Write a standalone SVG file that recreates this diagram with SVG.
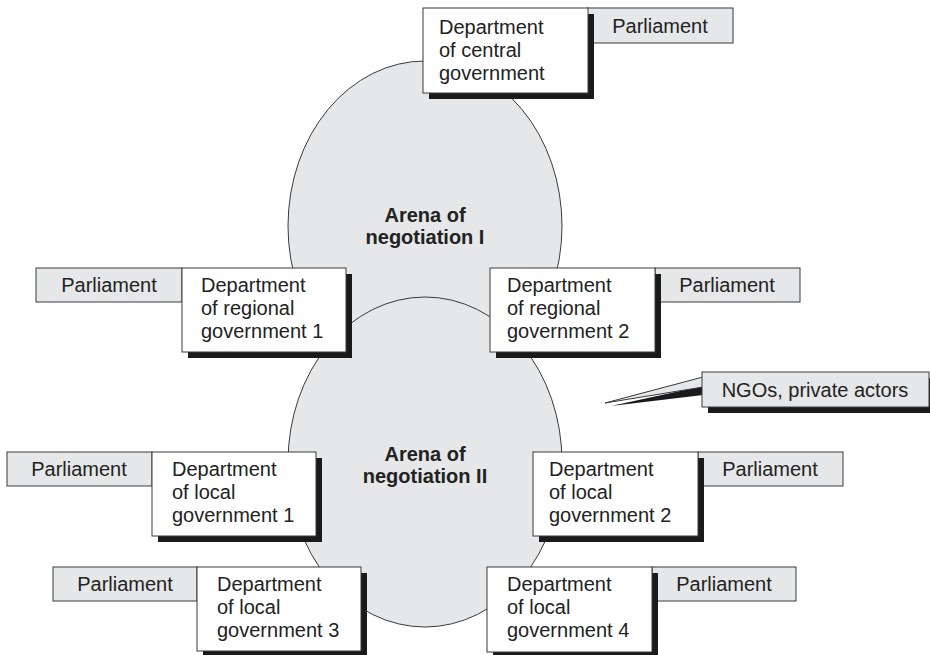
<svg xmlns="http://www.w3.org/2000/svg" width="930" height="655" viewBox="0 0 930 655">
<style>
  .arena { fill: #e6e7e9; stroke: #3a3a3a; stroke-width: 1; }
  .dept { fill: #ffffff; stroke: #3a3a3a; stroke-width: 1; }
  .parl { fill: #e6e7e9; stroke: #3a3a3a; stroke-width: 1; }
  .shadow { fill: #1a1a1a; }
  .t { font-family: "Liberation Sans", Arial, sans-serif; font-size: 20px; fill: #222; }
  .tc { text-anchor: middle; }
  .b { font-family: "Liberation Sans", Arial, sans-serif; font-size: 20px; font-weight: bold; fill: #222; text-anchor: middle; }
</style>
<rect width="930" height="655" fill="#ffffff"/>

<g id="arena1">
  <ellipse class="arena" cx="425" cy="226" rx="137" ry="165"/>
</g>
<g id="arena2">
  <ellipse class="arena" cx="425" cy="462" rx="137" ry="165"/>
</g>
<g id="arena-labels">
  <text class="b" x="425" y="222">Arena of</text>
  <text class="b" x="425" y="244">negotiation I</text>
  <text class="b" x="425" y="461">Arena of</text>
  <text class="b" x="425" y="483">negotiation II</text>
</g>

<g id="central">
  <rect class="parl" x="587" y="8" width="146" height="35"/>
  <text class="t tc" x="660" y="33">Parliament</text>
  <rect class="shadow" x="429" y="14" width="165" height="85"/>
  <rect class="dept" x="423" y="8" width="165" height="85"/>
  <text class="t" x="439" y="34">Department</text>
  <text class="t" x="439" y="57">of central</text>
  <text class="t" x="439" y="80">government</text>
</g>

<g id="regional1">
  <rect class="parl" x="36" y="268" width="146" height="34"/>
  <text class="t tc" x="109" y="292">Parliament</text>
  <rect class="shadow" x="188" y="274" width="164" height="84"/>
  <rect class="dept" x="182" y="268" width="164" height="84"/>
  <text class="t" x="201" y="292">Department</text>
  <text class="t" x="201" y="315">of regional</text>
  <text class="t" x="201" y="338">government 1</text>
</g>

<g id="regional2">
  <rect class="parl" x="655" y="268" width="145" height="34"/>
  <text class="t tc" x="727" y="292">Parliament</text>
  <rect class="shadow" x="496" y="274" width="165" height="84"/>
  <rect class="dept" x="490" y="268" width="165" height="84"/>
  <text class="t" x="507" y="292">Department</text>
  <text class="t" x="507" y="315">of regional</text>
  <text class="t" x="507" y="338">government 2</text>
</g>

<g id="local1">
  <rect class="parl" x="7" y="452" width="145" height="34"/>
  <text class="t tc" x="79" y="476">Parliament</text>
  <rect class="shadow" x="158" y="458" width="164" height="84"/>
  <rect class="dept" x="152" y="452" width="164" height="84"/>
  <text class="t" x="172" y="476">Department</text>
  <text class="t" x="172" y="499">of local</text>
  <text class="t" x="172" y="522">government 1</text>
</g>

<g id="local2">
  <rect class="parl" x="698" y="452" width="145" height="34"/>
  <text class="t tc" x="770" y="476">Parliament</text>
  <rect class="shadow" x="539" y="458" width="165" height="84"/>
  <rect class="dept" x="533" y="452" width="165" height="84"/>
  <text class="t" x="549" y="476">Department</text>
  <text class="t" x="549" y="499">of local</text>
  <text class="t" x="549" y="522">government 2</text>
</g>

<g id="local3">
  <rect class="parl" x="53" y="567" width="144" height="34"/>
  <text class="t tc" x="125" y="591">Parliament</text>
  <rect class="shadow" x="203" y="573" width="164" height="84"/>
  <rect class="dept" x="197" y="567" width="164" height="84"/>
  <text class="t" x="217" y="591">Department</text>
  <text class="t" x="217" y="614">of local</text>
  <text class="t" x="217" y="637">government 3</text>
</g>

<g id="local4">
  <rect class="parl" x="652" y="567" width="144" height="34"/>
  <text class="t tc" x="724" y="591">Parliament</text>
  <rect class="shadow" x="493" y="573" width="165" height="85"/>
  <rect class="dept" x="487" y="567" width="165" height="85"/>
  <text class="t" x="507" y="591">Department</text>
  <text class="t" x="507" y="614">of local</text>
  <text class="t" x="507" y="637">government 4</text>
</g>

<g id="connectors">
  <polygon class="shadow" points="703,386 703,395 611,406"/>
  <polygon class="parl" points="703,377 703,387 605,403"/>
</g>

<g id="ngo">
  <rect class="shadow" x="708" y="378" width="228" height="35"/>
  <rect class="parl" x="702" y="372" width="227" height="35"/>
  <text class="t tc" x="815" y="397">NGOs, private actors</text>
</g>
</svg>
